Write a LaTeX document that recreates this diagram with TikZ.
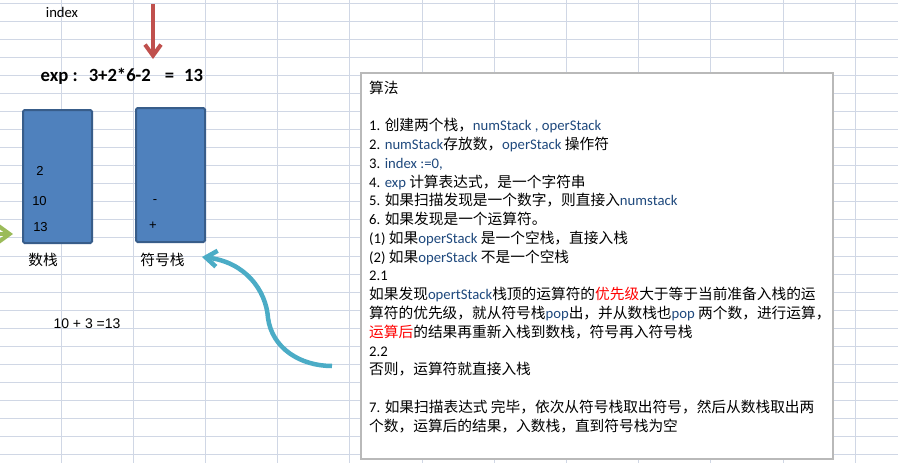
\documentclass[tikz,border=0pt]{standalone}
\usepackage{fontspec}
\setmainfont{Carlito}
\newfontfamily\cjk{Noto Sans CJK SC}
\newfontfamily\arialf{Liberation Sans}
\usetikzlibrary{arrows.meta, positioning}
\definecolor{gridline}{RGB}{208,215,229}
\definecolor{stackfill}{RGB}{79,129,189}
\definecolor{stackedge}{RGB}{56,93,138}
\definecolor{redarrow}{RGB}{192,80,77}
\definecolor{bluearrow}{RGB}{75,172,198}
\definecolor{greenarrow}{RGB}{155,187,89}
\definecolor{txtblue}{RGB}{31,73,125}
\definecolor{boxedge}{RGB}{185,185,185}
\newcommand\lat[1]{{\rmfamily #1}}
\newcommand\latb[1]{{\rmfamily\color{txtblue}#1}}
\newcommand\hl[1]{{\color{red}#1}}
\tikzset{
    stackbox/.style={rectangle, draw=stackedge, fill=stackfill, line width=2pt, rounded corners=1.5pt, minimum width=69pt, inner sep=0pt},
    cell/.style={font=\arialf\fontsize{13}{13}\selectfont, inner sep=0pt},
    cnlabel/.style={font=\cjk\fontsize{14.7}{14.7}\selectfont, inner sep=0pt},
    fatarr/.style={-{Straight Barb[length=11pt, width=16pt]}, line width=4pt},
}

\begin{document}
\begin{tikzpicture}[x=1pt, y=-1pt]
\useasboundingbox (0,0) rectangle (898,463);
\fill[white] (0,0) rectangle (898,463);

% Sheet grid
\foreach \gx in {0,...,11}
    \draw[gridline, line width=1pt] ({61+72.2*\gx},0) -- ({61+72.2*\gx},463);
\foreach \gy in {0,...,25}
    \draw[gridline, line width=1pt] (0,{3.3+18.05*\gy}) -- (898,{3.3+18.05*\gy});

% Index pointer
\node[inner sep=0pt, font=\fontsize{14.67}{14.67}\selectfont] (idx) at (62,12) {index};
\coordinate (idxtop) at (153,4);
\coordinate (idxtip) at (153,59);
\draw[fatarr, redarrow] (idxtop) -- (idxtip);

% Expression
\node[anchor=base west, inner sep=0pt, font=\bfseries\fontsize{18.67}{18.67}\selectfont] (expr) at (40.5,81.7)
    {exp :\hspace{11pt}3+2*6-2\hspace{14pt}=\hspace{10pt}13};

% Stacks
\node[stackbox, minimum height=133pt] (numstack) at (57.5,176.5) {};
\node[stackbox, minimum height=134pt] (opstack) at (170.5,175) {};
\node[cell] (n2) at (40,170.7) {2};
\node[cell] (n10) at (39.5,200.7) {10};
\node[cell] (n13) at (40.5,227.3) {13};
\node[cell] (opminus) at (155,201.5) {-};
\node[cell] (opplus) at (153,225.7) {+};
\node[cnlabel] (numlabel) at (43,260) {数栈};
\node[cnlabel] (oplabel) at (162.5,260) {符号栈};

% Incoming arrow
\coordinate (gtail) at (-20,234);
\coordinate (gtip) at (13,234);
\draw[fatarr, greenarrow] (gtail) -- (gtip);

\node[inner sep=0pt, font=\arialf\fontsize{14}{14}\selectfont] (sum) at (87,324) {10 + 3 =13};

% Algorithm note
\node[rectangle, draw=boxedge, fill=white, line width=1.2pt, minimum width=472pt, minimum height=386pt, inner sep=0pt] (algbox) at (597,266) {};
\node[anchor=north west, align=left, inner sep=0pt, font=\cjk\fontsize{14.7}{18.78}\selectfont] (algtext) at (369,80.5) {%
算法\\
~\\
\lat{1.} 创建两个栈，\latb{ numStack , operStack}\\
\lat{2. }\latb{numStack}存放数，\latb{ operStack }操作符\\
\lat{3. }\latb{index :=0,}\\
\lat{4. }\latb{exp }计算表达式，是一个字符串\\
\lat{5. }如果扫描发现是一个数字，则直接入\latb{numstack}\\
\lat{6. }如果发现是一个运算符。\\
\lat{(1) }如果\latb{operStack }是一个空栈，直接入栈\\
\lat{(2) }如果\latb{operStack }不是一个空栈\\
\lat{2.1}\\
如果发现\latb{opertStack}栈顶的运算符的\hl{优先级}大于等于当前准备入栈的运\\
算符的优先级，就从符号栈\latb{pop}出，并从数栈也\latb{pop }两个数，进行运算，\\
\hl{运算后}的结果再重新入栈到数栈，符号再入符号栈\\
\lat{2.2}\\
否则，运算符就直接入栈\\
~\\
\lat{7. }如果扫描表达式 完毕，依次从符号栈取出符号，然后从数栈取出两\\
个数，运算后的结果，入数栈，直到符号栈为空};

% Back to the operator stack
\coordinate (bstart) at (332,366);
\coordinate (bmid) at (268,318);
\coordinate (btip) at (202,257);
\draw[fatarr, bluearrow, line width=4.5pt] (bstart) .. controls +(-32,0) and +(4,30) .. (bmid)
    .. controls +(-2,-28) and +(43,5) .. (btip);

\end{tikzpicture}
\end{document}
